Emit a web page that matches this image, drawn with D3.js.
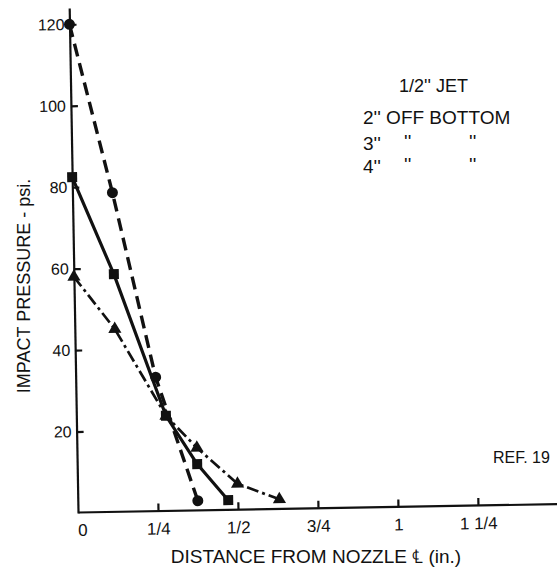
<!DOCTYPE html>
<html>
<head>
<meta charset="utf-8">
<title>Impact Pressure</title>
<style>
body {
    margin: 0;
    background-color: white;
}

svg {
    font-family: "Liberation Sans", Arial, Helvetica, sans-serif;
    background-color: white;
}

.axis path, .axis line {
    stroke: #111;
    stroke-width: 2.2;
}

.axis text {
    font-size: 16px;
    fill: #111;
}

.xaxis text {
    font-size: 17px;
}

.note {
    fill: #111;
}
</style>
<script src="https://cdn.jsdelivr.net/npm/d3@7"></script>
</head>
<body>
<script>
var width = 557,
    height = 569;

// 2" off bottom - circles, dashed
var circleX = [0, 0.125, 0.25, 0.375];
var circleY = [120, 78.5, 33, 2.5];

// 3" off bottom - squares, solid
var squareX = [0, 0.125, 0.28, 0.375, 0.47];
var squareY = [82.5, 58.5, 23.5, 11.5, 2.5];

// 4" off bottom - triangles, dash-dot
var triX = [0, 0.125, 0.28, 0.375, 0.5, 0.63];
var triY = [58, 45, 23.5, 15.5, 6.5, 2.5];

var xTicks = [0, 0.25, 0.5, 0.75, 1, 1.25];
var xTickLabels = ["0", "1/4", "1/2", "3/4", "1", "1 1/4"];
var yTicks = [20, 40, 60, 80, 100, 120];

var svg = d3.select('body')
    .append('svg')
    .attr('width', width)
    .attr('height', height);

var x = d3.scaleLinear().domain([0, 1.5]).range([78, 558]);
var y = d3.scaleLinear().domain([0, 124]).range([513, 8]);

// the scan is tilted a little
var plot = svg.append("g")
    .attr("transform", "rotate(-1,78,512)");

var xAxis = plot.append("g")
    .attr("class", "axis xaxis")
    .attr("transform", "translate(0,512)")
    .call(d3.axisBottom(x)
        .tickValues(xTicks)
        .tickFormat(function (d, i) { return xTickLabels[i]; })
        .tickSizeInner(-7)
        .tickSizeOuter(0)
        .tickPadding(12));

xAxis.selectAll(".tick").filter(function (d) { return d === 0; })
    .select("line").remove();
xAxis.selectAll(".tick").filter(function (d) { return d === 0; })
    .select("text").attr("dx", 4);

plot.append("g")
    .attr("class", "axis")
    .attr("transform", "translate(78,0)")
    .call(d3.axisLeft(y)
        .tickValues(yTicks)
        .tickSizeInner(-7)
        .tickSizeOuter(0)
        .tickPadding(5));

var series = [
    {xs: circleX, ys: circleY, dash: "13,7", w: 3.4, mark: "circle"},
    {xs: squareX, ys: squareY, dash: null, w: 3.2, mark: "square"},
    {xs: triX, ys: triY, dash: "12,4,3,4", w: 2.7, mark: "triangle"}
];

var line = d3.line()
    .x(function (d) { return x(d[0]); })
    .y(function (d) { return y(d[1]); });

series.forEach(function (s) {
    var pts = s.xs.map(function (v, i) { return [v, s.ys[i]]; });

    plot.append("path")
        .attr("d", line(pts))
        .attr("fill", "none")
        .attr("stroke", "#111")
        .attr("stroke-width", s.w)
        .attr("stroke-dasharray", s.dash)
        .attr("stroke-linejoin", "round");

    var g = plot.append("g").attr("fill", "#111");
    if (s.mark === "circle") {
        g.selectAll("circle").data(pts).enter().append("circle")
            .attr("cx", function (d) { return x(d[0]); })
            .attr("cy", function (d) { return y(d[1]); })
            .attr("r", 5.5);
    } else if (s.mark === "square") {
        g.selectAll("rect").data(pts).enter().append("rect")
            .attr("x", function (d) { return x(d[0]) - 5; })
            .attr("y", function (d) { return y(d[1]) - 5; })
            .attr("width", 10)
            .attr("height", 10);
    } else {
        g.selectAll("path").data(pts).enter().append("path")
            .attr("d", d3.symbol().type(d3.symbolTriangle).size(75))
            .attr("transform", function (d) {
                return "translate(" + x(d[0]) + "," + y(d[1]) + ")";
            });
    }
});

// axis titles
svg.append("text")
    .attr("class", "note")
    .attr("transform", "translate(30,286) rotate(-90)")
    .attr("text-anchor", "middle")
    .style("font-size", "18px")
    .text("IMPACT PRESSURE - psi.");

svg.append("text")
    .attr("class", "note")
    .attr("x", 316)
    .attr("y", 563)
    .attr("text-anchor", "middle")
    .style("font-size", "19px")
    .text("DISTANCE FROM NOZZLE \u2104 (in.)");

// legend
svg.append("text").attr("class", "note")
    .attr("x", 399).attr("y", 92)
    .style("font-size", "18px")
    .text("1/2'' JET");

svg.append("text").attr("class", "note")
    .attr("x", 363).attr("y", 124)
    .style("font-size", "19px")
    .text("2'' OFF BOTTOM");

[["3''", 150], ["4''", 173]].forEach(function (r) {
    svg.append("text").attr("class", "note")
        .attr("x", 363).attr("y", r[1])
        .style("font-size", "19px")
        .text(r[0]);
    svg.append("text").attr("class", "note")
        .attr("x", 404).attr("y", r[1] - 2)
        .style("font-size", "19px")
        .text("''");
    svg.append("text").attr("class", "note")
        .attr("x", 469).attr("y", r[1] - 2)
        .style("font-size", "19px")
        .text("''");
});

svg.append("text").attr("class", "note")
    .attr("x", 493).attr("y", 463)
    .style("font-size", "16px")
    .text("REF. 19");

</script>
</body>
</html>
